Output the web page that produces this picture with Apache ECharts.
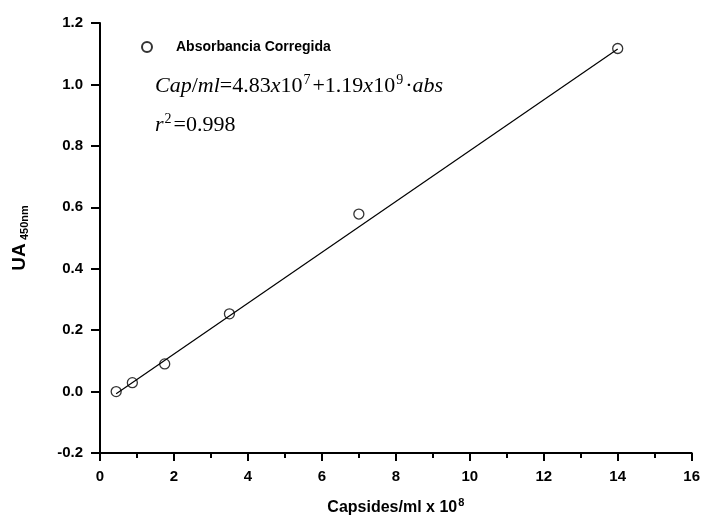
<!DOCTYPE html>
<html>
<head>
<meta charset="utf-8">
<script src="https://cdn.jsdelivr.net/npm/echarts@6/dist/echarts.min.js"></script>
<style>
  html, body { margin: 0; padding: 0; background: #fff; }
  #chart { width: 703px; height: 529px; }
</style>
</head>
<body>
<div id="chart"></div>
<script>
// Capsid concentration (x 10^8 capsides/ml) vs. corrected absorbance at 450 nm
const capsides = [0.4375, 0.875, 1.75, 3.5, 7, 14];
const absorbance = [0.0, 0.029, 0.09, 0.253, 0.578, 1.117];

// End points of the fitted calibration line
const fitX = [0.4375, 14];
const fitY = [-0.007, 1.115];

const seriesName = 'Absorbancia Corregida';
const xTicks = { min: 0, max: 16, interval: 2 };
const yTicks = { min: -0.2, max: 1.2, interval: 0.2 };

const chart = echarts.init(document.getElementById('chart'), null, { renderer: 'canvas' });

const sans = 'Liberation Sans, Arial, sans-serif';
const mathFont = 'Liberation Serif, Times New Roman, serif';
const axisFont = { fontFamily: sans, fontWeight: 'bold', fontSize: 15, color: '#000' };

const mathRich = {
  i: { fontFamily: mathFont, fontStyle: 'italic', fontSize: 22, fill: '#000' },
  n: { fontFamily: mathFont, fontSize: 22, fill: '#000' },
  s: { fontFamily: mathFont, fontSize: 14, fill: '#000', padding: [0, 2, 12, 1] }
};

chart.setOption({
  animation: false,
  backgroundColor: '#fff',
  grid: { left: 100, right: 9, top: 23, bottom: 76, containLabel: false },
  legend: {
    data: [{ name: seriesName, icon: 'circle' }],
    left: 136,
    top: 35,
    itemWidth: 10,
    itemHeight: 10,
    textStyle: { fontFamily: sans, fontWeight: 'bold', fontSize: 14, color: '#000', padding: [0, 0, 0, 19] }
  },
  xAxis: {
    type: 'value',
    min: xTicks.min, max: xTicks.max, interval: xTicks.interval,
    name: 'Capsides/ml x 10{sup|8}',
    nameLocation: 'middle',
    nameGap: 44,
    nameTextStyle: {
      fontFamily: sans, fontWeight: 'bold', fontSize: 16, color: '#000',
      rich: { sup: { fontFamily: sans, fontWeight: 'bold', fontSize: 11, color: '#000', padding: [0, 0, 10, 1] } }
    },
    axisLine: { onZero: false, lineStyle: { color: '#000', width: 2 } },
    axisTick: { show: true, inside: false, length: 8, lineStyle: { color: '#000', width: 2 } },
    minorTick: { show: true, splitNumber: 2, length: 5, lineStyle: { color: '#000', width: 2 } },
    axisLabel: Object.assign({ margin: 16 }, axisFont),
    splitLine: { show: false }
  },
  yAxis: {
    type: 'value',
    min: yTicks.min, max: yTicks.max, interval: yTicks.interval,
    name: '{main|UA} {sub|450nm}',
    nameLocation: 'middle',
    nameRotate: 90,
    nameGap: 70,
    nameTextStyle: {
      rich: {
        main: { fontFamily: sans, fontWeight: 'bold', fontSize: 19, color: '#000' },
        sub: { fontFamily: sans, fontWeight: 'bold', fontSize: 11, color: '#000', padding: [9, 0, 0, 0] }
      }
    },
    axisLine: { onZero: false, lineStyle: { color: '#000', width: 2 } },
    axisTick: { show: true, inside: false, length: 9, lineStyle: { color: '#000', width: 2 } },
    axisLabel: Object.assign({ margin: 17, formatter: v => v.toFixed(1) }, axisFont),
    splitLine: { show: false }
  },
  series: [
    {
      name: 'fit',
      type: 'line',
      data: fitX.map((x, i) => [x, fitY[i]]),
      symbol: 'none',
      lineStyle: { color: '#000', width: 1.2 },
      silent: true,
      z: 2
    },
    {
      name: seriesName,
      type: 'scatter',
      data: capsides.map((x, i) => [x, absorbance[i]]),
      symbol: 'circle',
      symbolSize: 10,
      itemStyle: { color: 'rgba(255,255,255,0)', borderColor: '#000', borderWidth: 1.3 },
      z: 3
    }
  ],
  graphic: [
    {
      type: 'text',
      left: 155,
      top: 73,
      style: {
        text: '{i|Cap}{n|/}{i|ml}{n|=4.83}{i|x}{n|10}{s|7}{n|+1.19}{i|x}{n|10}{s|9}{n|·}{i|abs}',
        rich: mathRich
      }
    },
    {
      type: 'text',
      left: 155,
      top: 112,
      style: {
        text: '{i|r}{s|2}{n|=0.998}',
        rich: mathRich
      }
    }
  ]
});
</script>
</body>
</html>
